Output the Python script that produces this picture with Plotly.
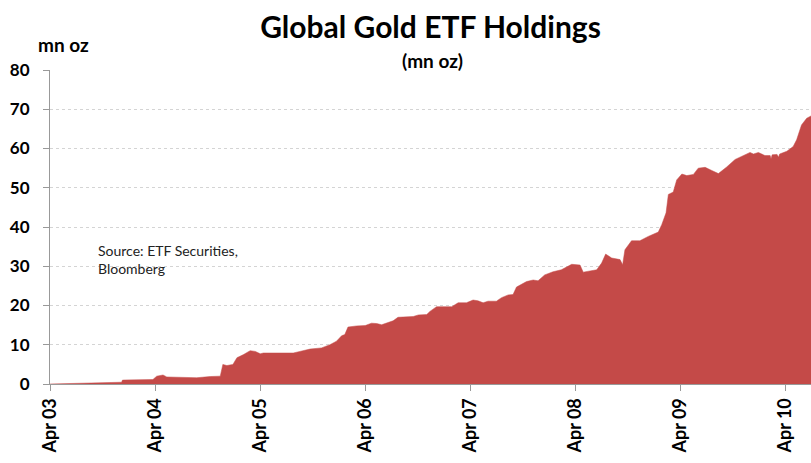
import plotly.graph_objects as go

dates = [
    "2003-04-01", "2003-09-22", "2003-12-06", "2003-12-09", "2004-02-07", "2004-03-24",
    "2004-04-06", "2004-04-28", "2004-05-11", "2004-08-23", "2004-10-09", "2004-11-13",
    "2004-11-22", "2004-12-06", "2004-12-27", "2005-01-10", "2005-02-02", "2005-02-25",
    "2005-03-15", "2005-04-01", "2005-04-12", "2005-07-25", "2005-08-17", "2005-09-21",
    "2005-10-31", "2005-11-29", "2005-12-22", "2006-01-09", "2006-01-20", "2006-01-31",
    "2006-03-02", "2006-04-01", "2006-04-23", "2006-05-11", "2006-05-28", "2006-06-20",
    "2006-07-07", "2006-07-24", "2006-09-15", "2006-10-03", "2006-11-01", "2006-11-12",
    "2006-12-05", "2007-01-27", "2007-02-18", "2007-03-19", "2007-04-11", "2007-04-28",
    "2007-05-16", "2007-06-02", "2007-07-01", "2007-07-19", "2007-08-11", "2007-08-28",
    "2007-09-09", "2007-10-14", "2007-11-06", "2007-11-23", "2007-12-05", "2007-12-16",
    "2008-01-14", "2008-02-12", "2008-03-19", "2008-04-17", "2008-04-28", "2008-05-21",
    "2008-06-14", "2008-07-01", "2008-07-15", "2008-08-05", "2008-09-03", "2008-09-12",
    "2008-09-20", "2008-10-13", "2008-11-11", "2008-12-10", "2009-01-14", "2009-01-26",
    "2009-02-10", "2009-02-18", "2009-03-07", "2009-03-19", "2009-04-06", "2009-04-23",
    "2009-05-16", "2009-06-02", "2009-06-26", "2009-07-19", "2009-08-11", "2009-09-09",
    "2009-10-08", "2009-10-25", "2009-11-29", "2009-12-11", "2009-12-28", "2010-01-20",
    "2010-02-07", "2010-02-10", "2010-02-14", "2010-03-03", "2010-03-08", "2010-03-12",
    "2010-04-06", "2010-04-28", "2010-05-10", "2010-05-27", "2010-06-14", "2010-06-29",
]
holdings = [
    0.0, 0.2, 0.45, 1.0, 1.1, 1.15,
    2.0, 2.3, 1.8, 1.6, 1.9, 2.0,
    5.0, 4.7, 5.0, 6.7, 7.5, 8.5,
    8.3, 7.7, 7.9, 7.9, 8.3, 8.9,
    9.2, 10.0, 10.9, 12.3, 12.6, 14.5,
    14.8, 14.9, 15.5, 15.4, 15.1, 15.7,
    16.1, 17.0, 17.2, 17.6, 17.7, 18.5,
    19.7, 19.7, 20.7, 20.7, 21.4, 21.2,
    20.7, 21.1, 21.1, 22.0, 22.7, 22.8,
    24.7, 26.1, 26.5, 26.3, 27.2, 27.8,
    28.6, 29.1, 30.5, 30.3, 28.5, 28.7,
    29.1, 30.8, 33.1, 32.1, 31.7, 30.4,
    34.2, 36.5, 36.5, 37.6, 38.7, 40.6,
    43.6, 48.3, 48.9, 52.0, 53.5, 53.1,
    53.4, 55.0, 55.2, 54.4, 53.6, 55.3,
    57.2, 57.8, 59.0, 58.6, 59.0, 58.2,
    58.2, 57.4, 58.4, 58.5, 57.8, 58.6,
    59.3, 60.5, 62.2, 66.0, 67.7, 68.3,
]
tick_dates = ["2003-04-01", "2004-04-01", "2005-04-01", "2006-04-01",
              "2007-04-01", "2008-04-01", "2009-04-01", "2010-04-01"]
tick_labels = ["Apr 03", "Apr 04", "Apr 05", "Apr 06", "Apr 07", "Apr 08", "Apr 09", "Apr 10"]
y_ticks = [0, 10, 20, 30, 40, 50, 60, 70, 80]

RED = "#C44A48"
FONT = "Lato"
W, H = 811, 463
ML, MR, MT, MB = 50, 0, 70, 79
PW, PH = W - ML - MR, H - MT - MB


def px(xp):
    return (xp - ML) / PW


def py(yp):
    return (H - MB - yp) / PH


fig = go.Figure()
fig.add_trace(go.Scatter(
    x=dates, y=holdings, mode="lines", fill="tozeroy",
    line=dict(color=RED, width=0.5), fillcolor=RED, hoverinfo="x+y",
))

fig.update_layout(
    width=W, height=H,
    margin=dict(l=ML, r=MR, t=MT, b=MB, autoexpand=False),
    paper_bgcolor="white", plot_bgcolor="white",
    showlegend=False,
    font=dict(family=FONT, color="#000000"),
    title=dict(text="<b>Global Gold ETF Holdings</b>", x=0.5, xref="paper",
               y=1 - 27 / H, yanchor="middle", font=dict(size=30, family=FONT)),
    annotations=[
        dict(text="<b>(mn oz)</b>", x=px(432), xref="paper", y=py(60), yref="paper",
             yanchor="middle", showarrow=False, font=dict(size=19)),
        dict(text="<b>mn oz</b>", xref="paper", yref="paper", x=px(36), y=py(45),
             xanchor="left", yanchor="middle", showarrow=False, font=dict(size=19)),
        dict(text="Source: ETF Securities,<br>Bloomberg", xref="paper", yref="paper",
             x=px(96), y=py(240), xanchor="left", yanchor="top", align="left",
             showarrow=False, font=dict(size=14, color="#222222")),
    ],
    xaxis=dict(
        type="date", range=["2003-04-01", "2010-06-29"], automargin=False,
        tickmode="array", tickvals=tick_dates, ticktext=tick_labels,
        tickangle=-90, ticks="outside", ticklen=6, tickcolor="#999999",
        showline=True, linecolor="#999999", linewidth=1, showgrid=False,
        tickfont=dict(size=18, family=FONT, color="#000000", weight="bold"),
    ),
    yaxis=dict(
        range=[0, 80], tickmode="array", tickvals=y_ticks, automargin=False,
        ticks="outside", ticklen=6, tickcolor="#999999", ticklabelstandoff=10,
        showline=True, linecolor="#999999", linewidth=1,
        showgrid=True, gridcolor="#d4d4d4", griddash="dot", gridwidth=1,
        zeroline=False,
        tickfont=dict(size=17, family=FONT, color="#000000", weight="bold"),
    ),
)

fig.write_html(
    "out.html",
    config={"displayModeBar": False},
    post_script="document.body.style.margin='0';document.body.style.overflow='hidden';",
)
